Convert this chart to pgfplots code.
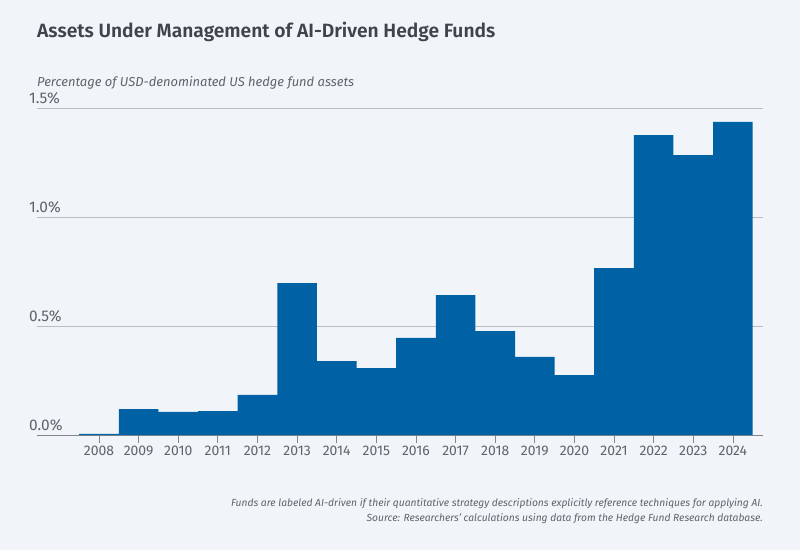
\documentclass[border=0pt]{standalone}
\usepackage{pgfplots}
\pgfplotsset{compat=1.18}
\usepackage{fontspec}
\setmainfont{Fira Sans}[BoldFont={Fira Sans SemiBold}]
\definecolor{bgc}{RGB}{241,245,249}
\definecolor{barc}{RGB}{0,98,165}
\definecolor{titlec}{RGB}{62,68,74}
\definecolor{textc}{RGB}{95,100,106}
\definecolor{gridc}{RGB}{185,190,195}
\definecolor{axisc}{RGB}{130,135,140}
\newcommand\tl{\fontsize{14}{16}\selectfont}
\newcommand\yl{\fontsize{15.5}{18}\selectfont}

\begin{document}
\begin{tikzpicture}[x=1bp,y=1bp]
\fill[bgc] (0,0) rectangle (800,-550);
\node[anchor=base west, inner sep=0, text=titlec, font=\bfseries\fontsize{19.3}{22}\selectfont] at (37,-38) {Assets Under Management of AI-Driven Hedge Funds};
\node[anchor=base west, inner sep=0, text=textc, font=\itshape\fontsize{13}{15}\selectfont] at (37,-87) {Percentage of USD-denominated US hedge fund assets};
\begin{axis}[
  at={(37bp,-435bp)}, anchor=south west,
  scale only axis, width=726bp, height=327bp,
  xmin=-1.565, xmax=16.76, ymin=0, ymax=1.5,
  axis x line*=bottom, axis y line*=left,
  x axis line style={draw=axisc, line width=0.8bp},
  y axis line style={draw=none},
  clip=false,
  tick label style={font=\tl, text=textc},
  ytick={0,0.5,1,1.5},
  yticklabels={0.0\%,0.5\%,1.0\%,1.5\%},
  ytick style={draw=none},
  ymajorgrids, grid style={draw=gridc, line width=0.8bp},
  yticklabel style={font=\yl, anchor=south west, inner sep=0pt, yshift=4bp},
  xtick={0,...,16},
  xticklabels={2008,2009,2010,2011,2012,2013,2014,2015,2016,2017,2018,2019,2020,2021,2022,2023,2024},
  tick align=outside, major tick length=8bp,
  xtick style={draw=axisc, line width=0.8bp},
  xticklabel style={anchor=base, yshift=-12.5bp},
  ]
  \addplot[ybar interval, fill=barc, draw=none] table[x expr=\thisrow{idx}-0.5, y=val] {
    idx val
    0 0.005
    1 0.119
    2 0.106
    3 0.110
    4 0.184
    5 0.697
    6 0.339
    7 0.307
    8 0.445
    9 0.642
    10 0.477
    11 0.358
    12 0.275
    13 0.766
    14 1.376
    15 1.284
    16 1.436
    17 1.436
  };
\end{axis}
\node[anchor=base east, inner sep=0, text=textc, font=\itshape\fontsize{10.3}{12}\selectfont] at (763,-506) {Funds are labeled AI-driven if their quantitative strategy descriptions explicitly reference techniques for applying AI.};
\node[anchor=base east, inner sep=0, text=textc, font=\itshape\fontsize{10.3}{12}\selectfont] at (763,-521) {Source: Researchers’ calculations using data from the Hedge Fund Research database.};
\end{tikzpicture}
\end{document}
